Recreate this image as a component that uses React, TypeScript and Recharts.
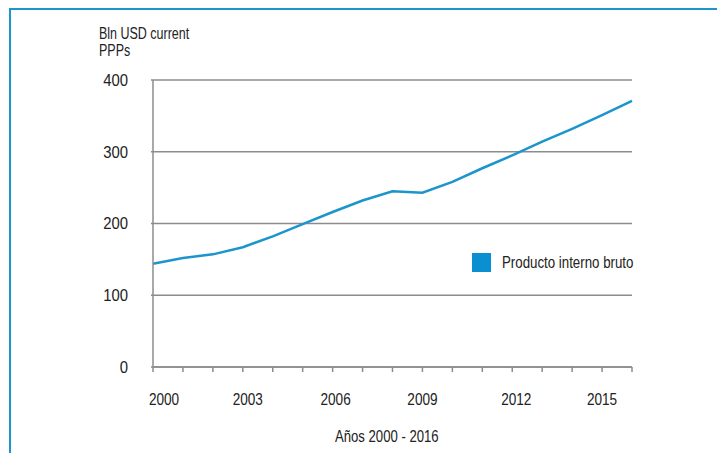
import { LineChart, Line, XAxis, YAxis, CartesianGrid, Legend } from 'recharts'

const years = [2000, 2001, 2002, 2003, 2004, 2005, 2006, 2007, 2008, 2009, 2010, 2011, 2012, 2013, 2014, 2015, 2016]
const gdp = [144, 152, 157, 167, 182, 199, 216, 232, 245, 243, 258, 277, 295, 314, 332, 351, 371]
const yTicks = [0, 100, 200, 300, 400]
const labeledYears = [2000, 2003, 2006, 2009, 2012, 2015]

const data = years.map((year, i) => ({ year, gdp: gdp[i] }))

// no condensed font available, so squeeze Liberation Sans horizontally
const FONT = '"Liberation Sans", Arial, sans-serif'
const BLUE = '#1b95cc'
const GREY = '#8c8c8c'
const INK = '#222'

// small nudges so the year labels sit where the original put them
const labelShift: Record<number, number> = { 2000: 11, 2003: 5, 2006: 3, 2012: 4 }

const XTick = (props: any) => {
  const { x, y, payload } = props
  if (!labeledYears.includes(payload.value)) return null
  const dx = labelShift[payload.value] || 0
  return (
    <text
      transform={`translate(${x + dx},${y + 31}) scale(0.85,1)`}
      textAnchor="middle"
      fontSize={16}
      fill={INK}
      fontFamily={FONT}
    >
      {payload.value}
    </text>
  )
}

const YTick = (props: any) => {
  const { y, payload } = props
  return (
    <text
      transform={`translate(128,${y}) scale(0.93,1)`}
      dy="0.36em"
      textAnchor="end"
      fontSize={16}
      fill={INK}
      fontFamily={FONT}
    >
      {payload.value}
    </text>
  )
}

const squeeze = (s: number) => ({ transform: `scaleX(${s})`, transformOrigin: 'left top', whiteSpace: 'nowrap' as const })

const LegendBox = ({ payload }: any) => (
  <div style={{ fontFamily: FONT, fontSize: 16, color: INK }}>
    {(payload || []).map((p: any) => (
      <div key={p.value} style={{ position: 'relative', height: 20 }}>
        <span style={{ position: 'absolute', left: 0, top: 0, width: 19, height: 19, background: '#0a8fd0' }} />
        <span style={{ position: 'absolute', left: 30, top: 0, lineHeight: '19px', ...squeeze(0.83) }}>{p.value}</span>
      </div>
    ))}
  </div>
)

export default function App() {
  return (
    <div style={{ position: 'absolute', left: 0, top: 0, width: 717, height: 453, background: '#fff', overflow: 'hidden' }}>
      <div
        style={{
          position: 'absolute',
          left: 9,
          top: 8,
          width: 740,
          height: 480,
          borderTop: `2px solid ${BLUE}`,
          borderLeft: `2px solid ${BLUE}`,
        }}
      />
      <div
        style={{
          position: 'absolute',
          left: 99,
          top: 25,
          fontFamily: FONT,
          fontSize: 16,
          lineHeight: '17px',
          color: INK,
          ...squeeze(0.78),
        }}
      >
        Bln USD current
        <br />
        PPPs
      </div>
      <div
        style={{
          position: 'absolute',
          left: 335,
          top: 428,
          fontFamily: FONT,
          fontSize: 16,
          lineHeight: '17px',
          color: INK,
          ...squeeze(0.82),
        }}
      >
        Años 2000 - 2016
      </div>
      <div style={{ position: 'absolute', left: 0, top: 0 }}>
        <LineChart width={717} height={453} data={data} margin={{ top: 80, right: 85, bottom: 6, left: 93 }}>
          <CartesianGrid vertical={false} stroke={GREY} strokeWidth={1.5} />
          <XAxis
            dataKey="year"
            type="number"
            domain={[2000, 2016]}
            ticks={years}
            interval={0}
            height={80}
            stroke={GREY}
            strokeWidth={1.5}
            tickSize={5}
            tickMargin={2}
            tick={<XTick />}
          />
          <YAxis
            domain={[0, 400]}
            ticks={yTicks}
            width={60}
            stroke={GREY}
            strokeWidth={1.5}
            tickSize={2}
            tick={<YTick />}
          />
          <Legend
            layout="horizontal"
            verticalAlign="middle"
            align="center"
            content={<LegendBox />}
            wrapperStyle={{ position: 'absolute', left: 472, top: 253, width: 200 }}
          />
          <Line
            type="linear"
            dataKey="gdp"
            name="Producto interno bruto"
            stroke={BLUE}
            strokeWidth={2.5}
            dot={false}
            legendType="square"
            isAnimationActive={false}
          />
        </LineChart>
      </div>
    </div>
  )
}
